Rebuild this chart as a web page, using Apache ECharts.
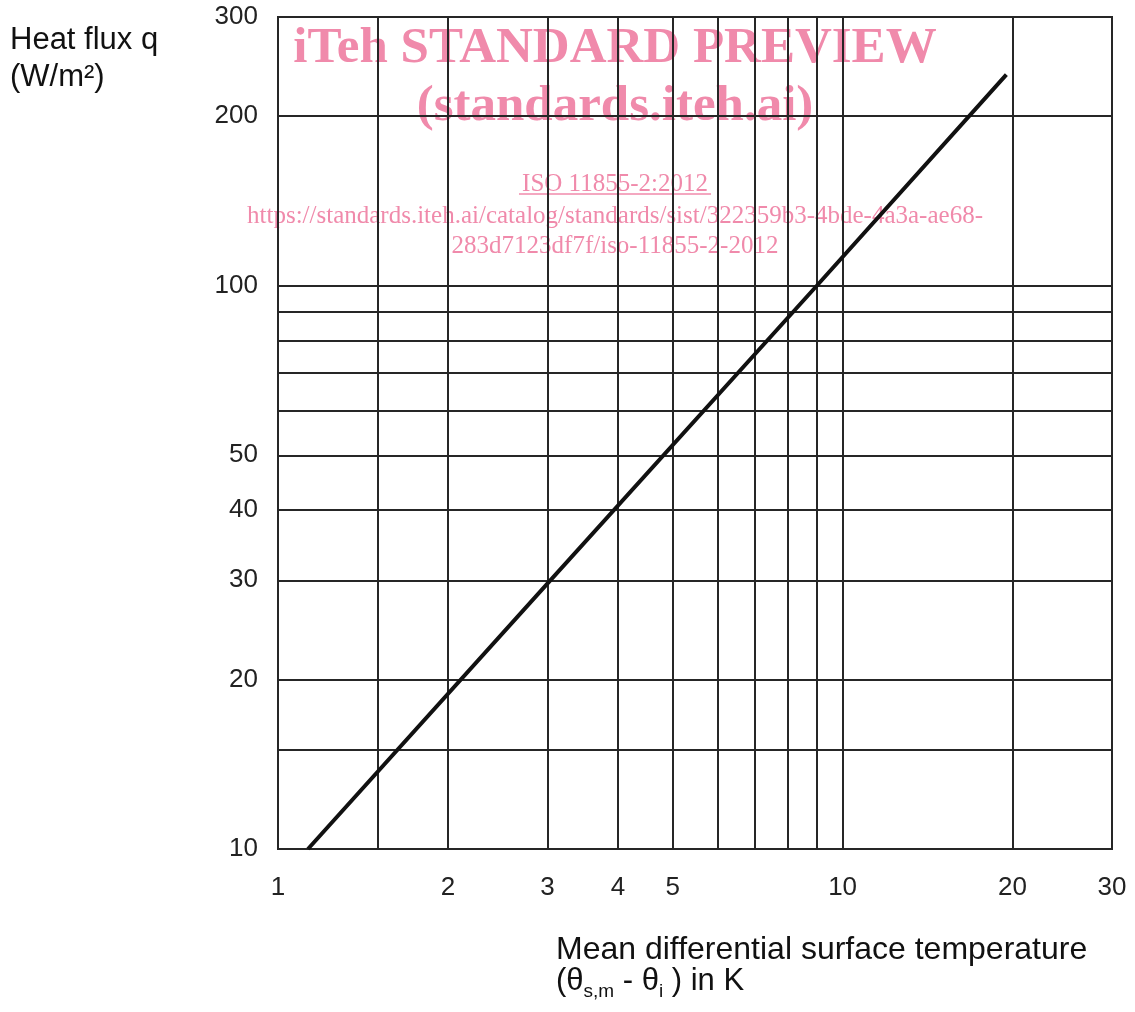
<!DOCTYPE html>
<html>
<head>
<meta charset="utf-8">
<script src="https://cdn.jsdelivr.net/npm/echarts@6/dist/echarts.min.js"></script>
<style>
  html, body { margin: 0; padding: 0; background: #fff; }
  #chart { width: 1135px; height: 1012px; }
</style>
</head>
<body>
<div id="chart"></div>
<script>
// axis ranges (log-log)
const xMin = 1, xMax = 30
const yMin = 10, yMax = 300

// grid lines and tick labels
const xGridValues = [1.5, 2, 3, 4, 5, 6, 7, 8, 9, 10, 20]
const xLabelValues = [1, 2, 3, 4, 5, 10, 20, 30]
const yGridValues = [15, 20, 30, 40, 50, 60, 70, 80, 90, 100, 200]
const yLabelValues = [10, 20, 30, 40, 50, 100, 200, 300]

// characteristic curve
const deltaTheta = [1.13, 3, 9, 19.5]     // K
const heatFlux = [10, 29.6, 100, 237]     // W/m²

const ink = '#262626'
const pink = '#f08aab'
const sans = '"Liberation Sans", Arial, sans-serif'
const serif = '"Liberation Serif", "Times New Roman", serif'

const chart = echarts.init(document.getElementById('chart'), null, { renderer: 'canvas' })

// watermark line helper
function mark(text, y, size, bold) {
  return {
    type: 'text', x: 615, y: y,
    style: { text: text, font: (bold ? 'bold ' : '') + size + 'px ' + serif, fill: pink, textAlign: 'center', textVerticalAlign: 'top' }
  }
}

chart.setOption({
  animation: false,
  backgroundColor: '#fff',
  grid: {
    left: 278, right: 23, top: 17, bottom: 163,
    show: true, borderColor: ink, borderWidth: 2, backgroundColor: 'transparent'
  },
  xAxis: {
    type: 'log', logBase: 10, min: xMin, max: xMax,
    axisLine: { show: true, lineStyle: { color: ink, width: 2 } },
    axisTick: { show: false, customValues: xGridValues },
    axisLabel: {
      customValues: xLabelValues, margin: 26,
      color: '#222', fontFamily: sans, fontSize: 26
    },
    splitLine: { show: true, lineStyle: { color: ink, width: 2 } },
    minorSplitLine: { show: false }
  },
  yAxis: {
    type: 'log', logBase: 10, min: yMin, max: yMax,
    axisLine: { show: true, lineStyle: { color: ink, width: 2 } },
    axisTick: { show: false, customValues: yGridValues },
    axisLabel: {
      customValues: yLabelValues, margin: 20,
      color: '#222', fontFamily: sans, fontSize: 26
    },
    splitLine: { show: true, lineStyle: { color: ink, width: 2 } }
  },
  series: [{
    type: 'line',
    data: deltaTheta.map((x, i) => [x, heatFlux[i]]),
    showSymbol: false,
    lineStyle: { color: '#111', width: 4 },
    z: 5
  }],
  graphic: [
    // axis titles
    { type: 'text', left: 10, top: 22, style: { text: 'Heat flux q\n(W/m²)', font: '31px ' + sans, fill: '#111', lineHeight: 37 } },
    { type: 'text', left: 556, top: 934, style: { text: 'Mean differential surface temperature', font: '32px ' + sans, fill: '#111' } },
    {
      type: 'text', left: 556, top: 966,
      style: {
        text: '{n|(θ}{s|s,m}{n| - θ}{s|i}{n| ) in K}',
        fill: '#111',
        rich: {
          n: { fontFamily: sans, fontSize: 31, lineHeight: 40, fill: '#111' },
          s: { fontFamily: sans, fontSize: 19, lineHeight: 19, verticalAlign: 'bottom', fill: '#111' }
        }
      }
    },
    // watermark
    { type: 'group', z: -1, children: [
      mark('iTeh STANDARD PREVIEW', 23, 51, true),
      mark('(standards.iteh.ai)', 81, 51, true),
      mark('ISO 11855-2:2012', 172, 25, false),
      { type: 'line', shape: { x1: 519, y1: 194, x2: 711, y2: 194 }, style: { stroke: pink, lineWidth: 1.5 } },
      mark('https://standards.iteh.ai/catalog/standards/sist/322359b3-4bde-4a3a-ae68-', 204, 25, false),
      mark('283d7123df7f/iso-11855-2-2012', 234, 25, false)
    ] }
  ]
})
</script>
</body>
</html>
